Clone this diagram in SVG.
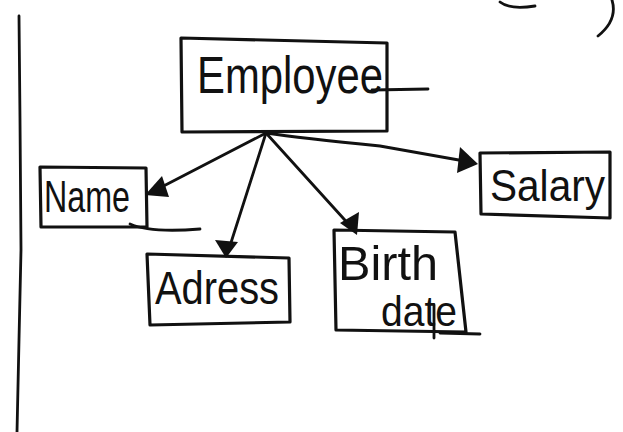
<svg xmlns="http://www.w3.org/2000/svg" width="623" height="432" viewBox="0 0 623 432">
<style>
.box{fill:none;stroke:#111;stroke-width:3.2;stroke-linejoin:round;stroke-linecap:round}
.ln{fill:none;stroke:#111;stroke-width:2.8;stroke-linecap:round}
.t{font-family:"Liberation Sans","DejaVu Sans",sans-serif;fill:#111;font-weight:normal}
</style>
<rect width="623" height="432" fill="#fff"/>
<!-- margin line and cut-off fragments -->
<path class="ln" d="M19,16 L20,120 L21,250 L19,340 L17,432" stroke-width="3"/>
<path class="ln" d="M500,2 Q510,10 535,6"/>
<path class="ln" d="M612,0 Q618,20 598,36"/>
<g id="connectors">
<path class="ln" d="M266,133 L152,192"/>
<path class="ln" d="M266,133 L228,252"/>
<path class="ln" d="M266,133 L353,229"/>
<path class="ln" d="M266,133 Q300,138 380,146 L470,162"/>
<path d="M145,195 L162,176 L169,197 Z" fill="#111"/>
<path d="M226,258 L215,240 L238,242 Z" fill="#111"/>
<path d="M357,235 L340,223 L359,212 Z" fill="#111"/>
<path d="M478,164 L457,173 L460,147 Z" fill="#111"/>
</g>
<g id="employee">
<path class="box" d="M181,38 L387,43 L387,131 L182,132 Z"/>
<text class="t" x="197" y="93" font-size="52" textLength="186" lengthAdjust="spacingAndGlyphs">Employee</text>
<path class="ln" d="M372,90 L428,89"/>
</g>
<g id="name">
<path class="box" d="M40,167 L146,168 L147,227 L41,227 Z"/>
<text class="t" x="44" y="212" font-size="44" textLength="86" lengthAdjust="spacingAndGlyphs">Name</text>
<path class="ln" d="M130,224 Q150,233 200,229"/>
</g>
<g id="adress">
<path class="box" d="M147,254 L289,258 L290,322 L150,325 Z"/>
<text class="t" x="155" y="304" font-size="46" textLength="124" lengthAdjust="spacingAndGlyphs">Adress</text>
</g>
<g id="birthdate">
<path class="box" d="M334,230 L455,232 L466,332 L336,330 Z"/>
<text class="t" x="338" y="280" font-size="48" textLength="100" lengthAdjust="spacingAndGlyphs">Birth</text>
<text class="t" x="381" y="326" font-size="42" textLength="76" lengthAdjust="spacingAndGlyphs">date</text>
<path class="ln" d="M434,305 L434,338"/>
<path class="ln" d="M440,333 L480,334"/>
</g>
<g id="salary">
<path class="box" d="M480,153 L610,152 L610,218 L481,214 Z"/>
<text class="t" x="490" y="201" font-size="45" textLength="115" lengthAdjust="spacingAndGlyphs">Salary</text>
</g>
</svg>
